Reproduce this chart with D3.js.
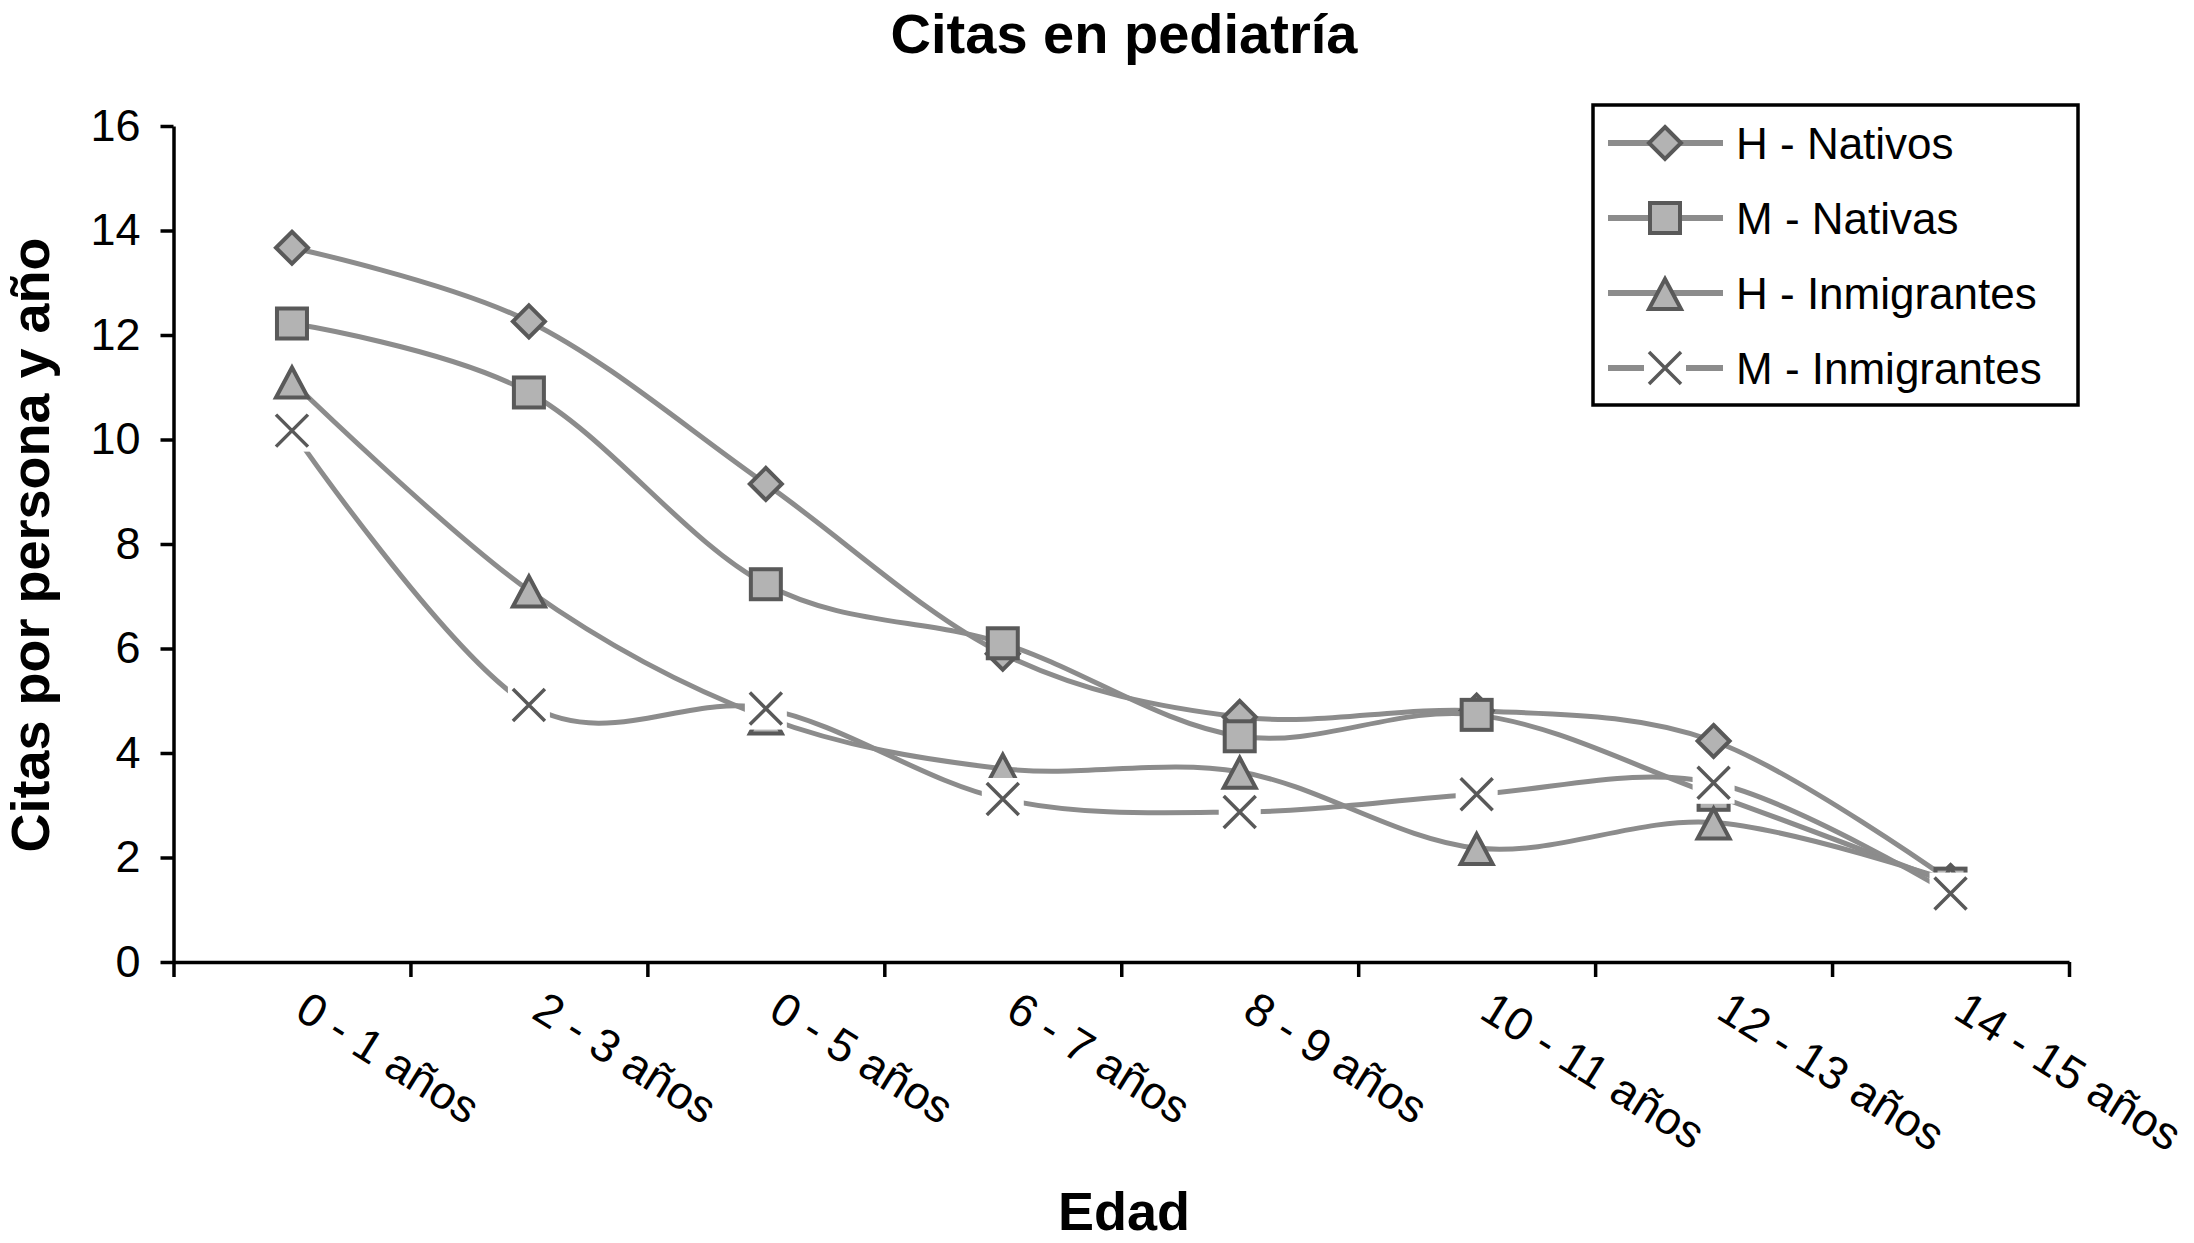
<!DOCTYPE html>
<html>
<head>
<meta charset="utf-8">
<script src="https://cdn.jsdelivr.net/npm/d3@7/dist/d3.min.js"></script>
<style>
  html, body { margin: 0; padding: 0; background: #fff; }
  svg { display: block; }
  text { font-family: "Liberation Sans", Arial, "Helvetica", sans-serif; fill: #000; }
</style>
</head>
<body>
<svg id="chart" width="2194" height="1243"></svg>
<script>
// ---------------- data ----------------
const categories = ["0 - 1 años", "2 - 3 años", "0 - 5 años", "6 - 7 años",
                    "8 - 9 años", "10 - 11 años", "12 - 13 años", "14 - 15 años"];
const seriesNames = ["H - Nativos", "M - Nativas", "H - Inmigrantes", "M - Inmigrantes"];
const hNativos      = [13.67, 12.26, 9.15, 5.90, 4.69, 4.81, 4.23, 1.55];
const mNativas      = [12.22, 10.90, 7.23, 6.10, 4.32, 4.73, 3.20, 1.50];
const hInmigrantes  = [11.11, 7.11, 4.68, 3.70, 3.64, 2.18, 2.67, 1.55];
const mInmigrantes  = [10.17, 4.92, 4.85, 3.12, 2.87, 3.21, 3.43, 1.31];
const yTicks = [0, 2, 4, 6, 8, 10, 12, 14, 16];
const markerTypes = ["diamond", "square", "triangle", "x"];
const seriesValues = [hNativos, mNativas, hInmigrantes, mInmigrantes];

(function () {
// ---------------- layout ----------------
const svg = d3.select("#chart");
const plotLeft = 173.5, plotRight = 2069, plotTop = 126, plotBottom = 962;
const lineColor = "#8c8c8c", mFill = "#b3b3b3", mStroke = "#595959";

const x = d3.scaleBand().domain(categories).range([plotLeft, plotRight]).padding(0);
const xLin = d3.scaleLinear().domain([0, categories.length]).range([plotLeft, plotRight]);
const y = d3.scaleLinear().domain([0, 16]).range([plotBottom, plotTop]);

// title
svg.append("text").attr("x", 1124).attr("y", 53).attr("text-anchor", "middle")
  .attr("font-size", 56).attr("font-weight", "bold").text("Citas en pediatría");

// axes
const yAxis = d3.axisLeft(y).tickValues(yTicks).tickSize(13).tickSizeOuter(0).tickPadding(20);
const gy = svg.append("g").attr("transform", `translate(${plotLeft},0)`).call(yAxis);
gy.selectAll("path, line").attr("stroke", "#000").attr("stroke-width", 3.5);
gy.selectAll("text").attr("font-size", 45).attr("font-family", "Liberation Sans, Arial, sans-serif").attr("fill", "#000");

const xAxis = d3.axisBottom(xLin).tickValues(d3.range(0, categories.length + 1))
  .tickSize(15).tickSizeOuter(0).tickFormat("");
const gx = svg.append("g").attr("transform", `translate(0,${plotBottom})`).call(xAxis);
gx.selectAll("path, line").attr("stroke", "#000").attr("stroke-width", 3.5);

// rotated category labels
svg.append("g").selectAll("text").data(categories).join("text")
  .attr("transform", d => `translate(${x(d) + x.bandwidth() / 2 + 1},1017) rotate(32)`)
  .attr("text-anchor", "start").attr("font-size", 46).text(d => d);

// axis titles
svg.append("text").attr("x", 1124).attr("y", 1230).attr("text-anchor", "middle")
  .attr("font-size", 54).attr("font-weight", "bold").text("Edad");
svg.append("text").attr("transform", "translate(49,545) rotate(-90)")
  .attr("text-anchor", "middle").attr("font-size", 54).attr("font-weight", "bold")
  .text("Citas por persona y año");

// ---------------- markers ----------------
function drawMarker(g, type, cx, cy) {
  const m = g.append("g").attr("transform", `translate(${cx},${cy})`);
  if (type === "diamond") {
    m.append("path").attr("d", "M0,-16L16,0L0,16L-16,0Z")
      .attr("fill", mFill).attr("stroke", mStroke).attr("stroke-width", 4);
  } else if (type === "square") {
    m.append("rect").attr("x", -15).attr("y", -15).attr("width", 30).attr("height", 30)
      .attr("fill", mFill).attr("stroke", mStroke).attr("stroke-width", 4);
  } else if (type === "triangle") {
    m.append("path").attr("d", "M0,-14L16,16L-16,16Z")
      .attr("fill", mFill).attr("stroke", mStroke).attr("stroke-width", 4);
  } else {
    m.append("rect").attr("x", -21).attr("y", -21).attr("width", 42).attr("height", 42).attr("fill", "#fff");
    m.append("path").attr("d", "M-16,-16L16,16M16,-16L-16,16")
      .attr("stroke", mStroke).attr("stroke-width", 3.5).attr("fill", "none");
  }
}

const line = d3.line()
  .x((d, i) => x(categories[i]) + x.bandwidth() / 2)
  .y(d => y(d))
  .curve(d3.curveCardinal.tension(0));

const plot = svg.append("g");
seriesValues.forEach((vals, si) => {
  const g = plot.append("g");
  g.append("path").datum(vals).attr("d", line)
    .attr("fill", "none").attr("stroke", lineColor).attr("stroke-width", 5);
  vals.forEach((v, i) => drawMarker(g, markerTypes[si], x(categories[i]) + x.bandwidth() / 2, y(v)));
});

// ---------------- legend ----------------
const lg = svg.append("g");
lg.append("rect").attr("x", 1593).attr("y", 105).attr("width", 485).attr("height", 300)
  .attr("fill", "#fff").attr("stroke", "#000").attr("stroke-width", 3.5);
seriesNames.forEach((name, i) => {
  const ry = 143 + i * 75;
  lg.append("line").attr("x1", 1608).attr("x2", 1723).attr("y1", ry).attr("y2", ry)
    .attr("stroke", lineColor).attr("stroke-width", 6);
  drawMarker(lg, markerTypes[i], 1665, ry);
  lg.append("text").attr("x", 1736).attr("y", ry + 16).attr("font-size", 44).text(name);
});
})();
</script>
</body>
</html>
